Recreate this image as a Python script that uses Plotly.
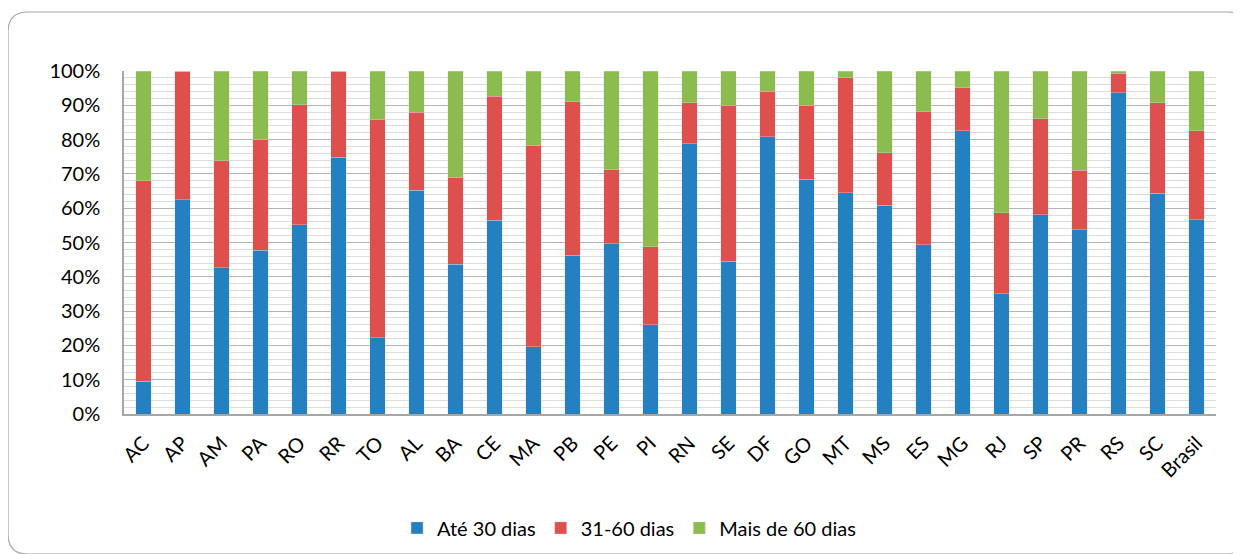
import plotly.graph_objects as go

# share of cases per state, in %
estados = ['AC', 'AP', 'AM', 'PA', 'RO', 'RR', 'TO', 'AL', 'BA', 'CE', 'MA', 'PB', 'PE', 'PI',
           'RN', 'SE', 'DF', 'GO', 'MT', 'MS', 'ES', 'MG', 'RJ', 'SP', 'PR', 'RS', 'SC', 'Brasil']
ate_30 = [9.5, 62.4, 42.7, 47.8, 55.2, 74.9, 22.3, 65.2, 43.6, 56.5, 19.6, 46.3, 49.7, 26.0,
          78.8, 44.5, 80.8, 68.4, 64.5, 60.8, 49.4, 82.6, 35.1, 58.1, 53.7, 93.6, 64.3, 56.7]
de_31_60 = [58.5, 37.6, 31.1, 32.1, 35.0, 25.1, 63.6, 22.8, 25.3, 36.1, 58.6, 44.7, 21.5, 22.8,
            11.9, 45.5, 13.3, 21.4, 33.5, 15.3, 38.7, 12.5, 23.6, 28.0, 17.3, 5.7, 26.4, 25.9]
mais_60 = [32.0, 0.0, 26.2, 20.1, 9.8, 0.0, 14.1, 12.0, 31.1, 7.4, 21.8, 9.0, 28.8, 51.2,
           9.3, 10.0, 5.9, 10.2, 2.0, 23.9, 11.9, 4.9, 41.3, 13.9, 29.0, 0.7, 9.3, 17.4]

series = [
    ('Até 30 dias', ate_30, '#2480c0'),
    ('31-60 dias', de_31_60, '#de504e'),
    ('Mais de 60 dias', mais_60, '#8cbb4e'),
]

font = 'Lato, "Open Sans", sans-serif'

# the page body has an 8px margin, so everything is laid out 8px up/left
L, T, W, H = 116, 63, 1092, 343

fig = go.Figure()
for nome, vals, cor in series:
    fig.add_trace(go.Bar(
        x=estados, y=vals, name=nome,
        marker=dict(color=cor, line=dict(color='rgba(220,220,220,0.6)', width=0.6)),
        width=0.39,
    ))

# rounded frame around the whole chart
def px_x(p):
    return (p - L) / W

def px_y(p):
    return (T + H - p) / H

x0, x1, y0, y1, r = 0, 1240, 4, 546, 20
path = (f"M {px_x(x0 + r)} {px_y(y0)} L {px_x(x1 - r)} {px_y(y0)} "
        f"Q {px_x(x1)} {px_y(y0)} {px_x(x1)} {px_y(y0 + r)} "
        f"L {px_x(x1)} {px_y(y1 - r)} Q {px_x(x1)} {px_y(y1)} {px_x(x1 - r)} {px_y(y1)} "
        f"L {px_x(x0 + r)} {px_y(y1)} Q {px_x(x0)} {px_y(y1)} {px_x(x0)} {px_y(y1 - r)} "
        f"L {px_x(x0)} {px_y(y0 + r)} Q {px_x(x0)} {px_y(y0)} {px_x(x0 + r)} {px_y(y0)} Z")
fig.add_shape(type='path', path=path, xref='paper', yref='paper',
              line=dict(color='#a6a6a6', width=1.2), layer='below')

fig.update_layout(
    barmode='stack',
    width=1241, height=554,
    margin=dict(l=L, r=1241 - L - W, t=T, b=554 - T - H),
    paper_bgcolor='white', plot_bgcolor='white',
    font=dict(family=font, size=19, color='black'),
    showlegend=True,
    legend=dict(orientation='h', x=0.4625, xanchor='center', y=-0.332, yanchor='middle',
                font=dict(size=20), traceorder='normal', itemwidth=30),
)
fig.update_yaxes(
    range=[0, 100], dtick=10, ticksuffix='%', automargin=False,
    showgrid=True, gridcolor='#b4b4b4', gridwidth=1,
    minor=dict(dtick=2, showgrid=True, gridcolor='#dcdcdc', gridwidth=1),
    showline=True, linecolor='#a6a6a6', linewidth=1.5,
    ticks='', ticklabelstandoff=18, zeroline=False,
    tickfont=dict(size=20),
)
fig.update_xaxes(
    tickangle=-45, showline=True, linecolor='#a6a6a6', linewidth=1.5, automargin=False,
    ticks='', ticklabelstandoff=8, tickfont=dict(size=20),
)

fig.write_html('out.html')
